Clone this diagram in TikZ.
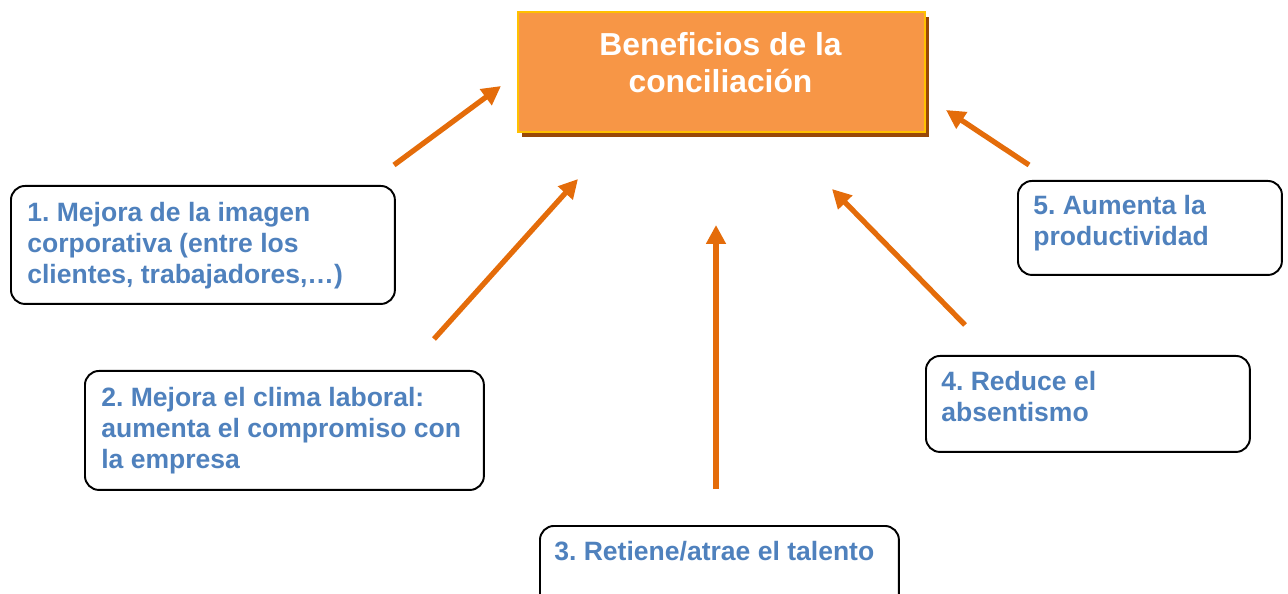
\documentclass[tikz,border=0pt]{standalone}
\usepackage{fontspec}
\setmainfont{Liberation Sans}
\usepackage{xcolor}
\usetikzlibrary{arrows.meta, positioning, shadows}

\definecolor{benfill}{HTML}{F79646}
\definecolor{benborder}{HTML}{FFC000}
\definecolor{benshadow}{HTML}{984807}
\definecolor{arrorange}{HTML}{E46C0A}
\definecolor{txtblue}{HTML}{4F81BD}
\frenchspacing

\begin{document}
\begin{tikzpicture}[
    x=0.02cm, y=-0.02cm,
    title/.style={rectangle, draw=benborder, fill=benfill, line width=1.4pt,
                  anchor=north west, inner sep=0pt, minimum width=8.14cm, minimum height=2.4cm,
                  drop shadow={shadow xshift=0.08cm, shadow yshift=-0.1cm, fill=benshadow, opacity=1}},
    titletext/.style={anchor=north, inner sep=0pt, align=center, text=white,
                      font=\fontsize{18.1}{21}\selectfont\bfseries},
    item/.style={rectangle, draw=black, line width=1.1pt, rounded corners=0.28cm,
                 anchor=north west, inner sep=0pt},
    itemtext/.style={anchor=north west, inner sep=0pt, align=left, text=txtblue,
                     font=\fontsize{15.1}{17.6}\selectfont\bfseries},
    arr/.style={-{Triangle[length=0.38cm, width=0.38cm]}, draw=arrorange, line width=3pt},
]
\useasboundingbox (0,0) rectangle (1288,594);

% central box
\node[title] (ben) at (517,11) {};
\node[titletext] (bentxt) at (720.5,32) {Beneficios de la\\conciliación};

% the five benefits
\node[item, minimum width=7.68cm, minimum height=2.36cm] (b1) at (10,185) {};
\node[itemtext] (t1) at ([shift={(17,17)}]b1.north west)
    {1. Mejora de la imagen\\corporativa (entre los\\clientes, trabajadores,…)};

\node[item, minimum width=7.98cm, minimum height=2.38cm] (b2) at (84,370) {};
\node[itemtext] (t2) at ([shift={(17,17)}]b2.north west)
    {2. Mejora el clima laboral:\\aumenta el compromiso con\\la empresa};

\node[item, minimum width=7.18cm, minimum height=1.8cm] (b3) at (539,525) {};
\node[itemtext] (t3) at ([shift={(15,16)}]b3.north west) {3. Retiene/atrae el talento};

\node[item, minimum width=6.48cm, minimum height=1.92cm] (b4) at (925,355) {};
\node[itemtext] (t4) at ([shift={(16,16)}]b4.north west) {4. Reduce el\\absentismo};

\node[item, minimum width=5.28cm, minimum height=1.88cm] (b5) at (1017,180) {};
\node[itemtext] (t5) at ([shift={(16,15)}]b5.north west) {5. Aumenta la\\productividad};

% arrow ends
\coordinate (a1from) at (394,165);  \coordinate (a1to) at (501,86);
\coordinate (a2from) at (434,339);  \coordinate (a2to) at (578,179);
\coordinate (a3from) at (716,489);  \coordinate (a3to) at (716,225);
\coordinate (a4from) at (965,325);  \coordinate (a4to) at (832,189);
\coordinate (a5from) at (1029,165); \coordinate (a5to) at (946,110);

\draw[arr] (a1from) -- (a1to);
\draw[arr] (a2from) -- (a2to);
\draw[arr] (a3from) -- (a3to);
\draw[arr] (a4from) -- (a4to);
\draw[arr] (a5from) -- (a5to);

\end{tikzpicture}
\end{document}
